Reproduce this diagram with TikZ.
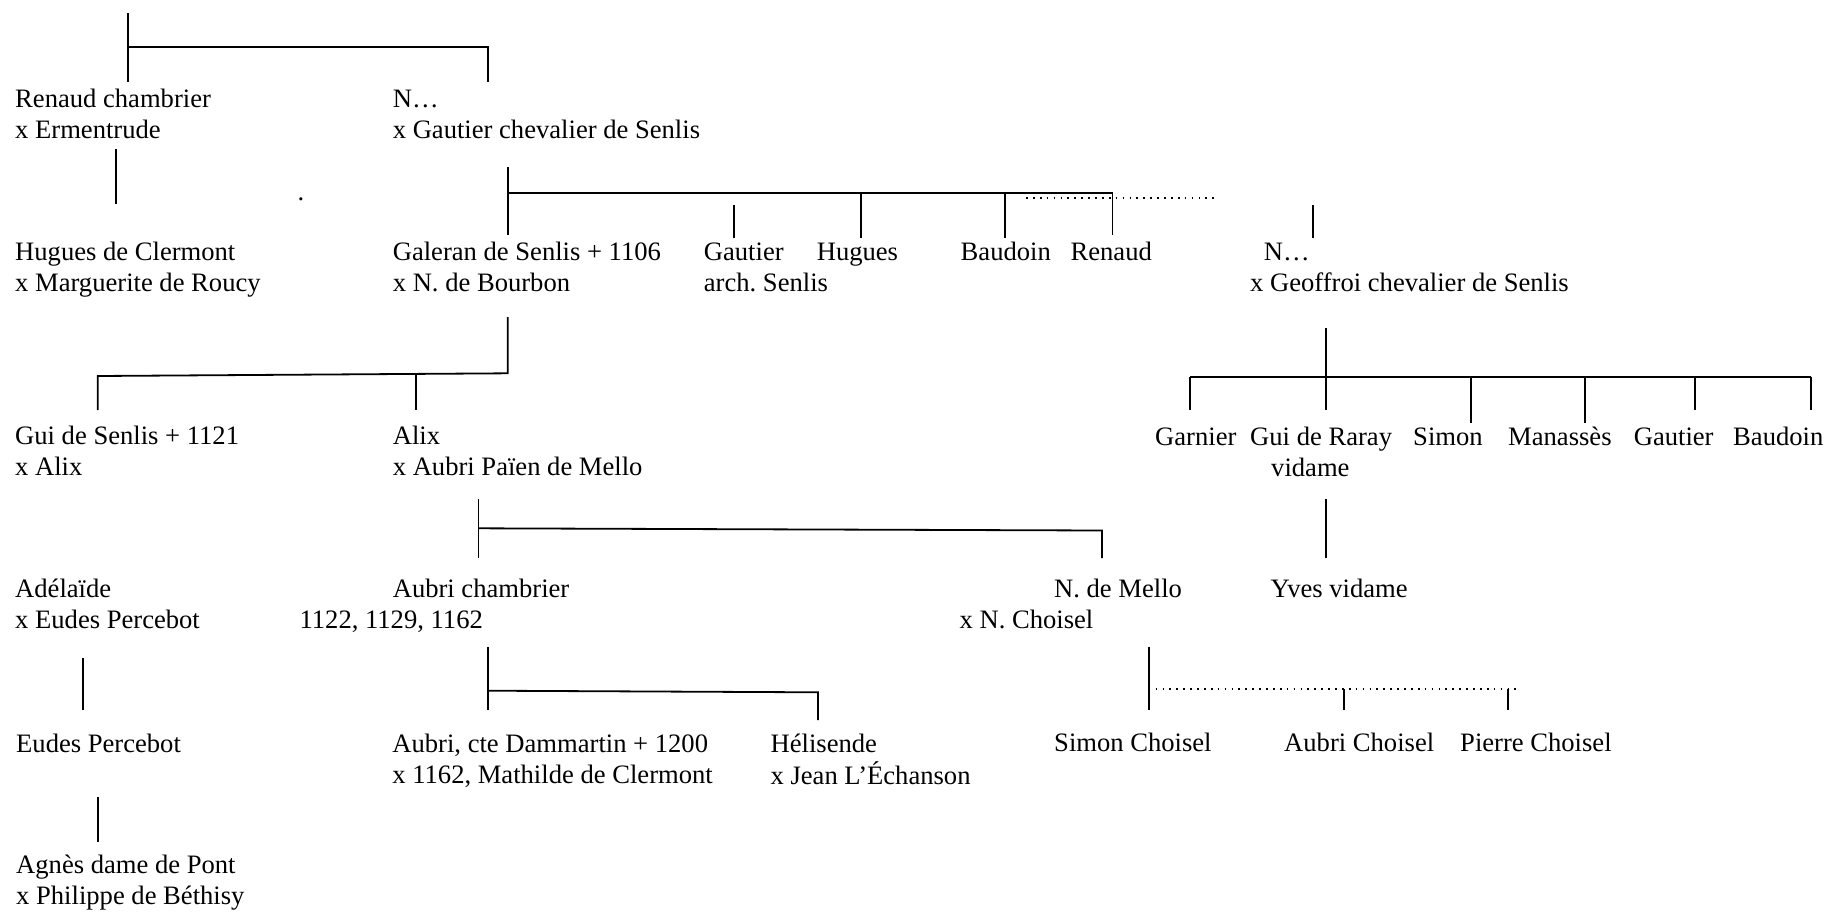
\documentclass[tikz,border=0pt]{standalone}
\usepackage{fontspec}
\setmainfont{Liberation Serif}
\newcommand\twol[1]{\begin{tabular}[t]{@{}l@{}}#1\end{tabular}}
\begin{document}
\frenchspacing
\begin{tikzpicture}[x=1pt,y=-1pt,
  txt/.style={anchor=base west, inner sep=0pt, font=\fontsize{26.6}{31}\selectfont\frenchspacing},
  ln/.style={line width=1.8pt},
  dl/.style={line width=1.7pt, dash pattern=on 1.7pt off 5.2pt}]
\useasboundingbox (0,0) rectangle (1827,913);
% ---------- persons ----------
\node[txt] (renaud)   at (15,107)   {\twol{Renaud chambrier\\x Ermentrude}};
\node[txt] (nG)       at (392.6,107) {\twol{N…\\x Gautier chevalier de Senlis}};
\node[txt] (dot)      at (297.5,200) {.};
\node[txt] (hugues)   at (15,260)   {\twol{Hugues de Clermont\\x Marguerite de Roucy}};
\node[txt] (galeran)  at (392.6,260) {\twol{Galeran de Senlis + 1106\\x N. de Bourbon}};
\node[txt] (gautier)  at (703.7,260) {\twol{Gautier\\arch. Senlis}};
\node[txt] (huguesB)  at (816.6,260) {Hugues};
\node[txt] (baudoin)  at (960.5,260) {Baudoin};
\node[txt] (renaudB)  at (1070.4,260) {Renaud};
\node[txt] (nGe)      at (1250,260) {\twol{\hspace*{13.6pt}N…\\x Geoffroi chevalier de Senlis}};
\node[txt] (gui)      at (15,444)   {\twol{Gui de Senlis + 1121\\x Alix}};
\node[txt] (alix)     at (392.6,444) {\twol{Alix\\x Aubri Païen de Mello}};
\node[txt] (garnier)  at (1155,445) {Garnier};
\node[txt] (guiR)     at (1250,445) {\twol{Gui de Raray\\\hspace*{21pt}vidame}};
\node[txt] (simon)    at (1413,445) {Simon};
\node[txt] (manasses) at (1508,445) {Manassès};
\node[txt] (gautierB) at (1633.6,445) {Gautier};
\node[txt] (baudoinB) at (1733,445) {Baudoin};
\node[txt] (adelaide) at (15,597)   {\twol{Adélaïde\\x Eudes Percebot}};
\node[txt] (aubri)    at (299.4,597) {\twol{\hspace*{93.2pt}Aubri chambrier\\1122, 1129, 1162}};
\node[txt] (mello)    at (959.4,597) {\twol{\hspace*{94.6pt}N. de Mello\\x N. Choisel}};
\node[txt] (yves)     at (1270.5,597) {Yves vidame};
\node[txt] (eudes)    at (16,752)   {Eudes Percebot};
\node[txt] (aubriD)   at (392.2,752) {\twol{Aubri, cte Dammartin + 1200\\x 1162, Mathilde de Clermont}};
\node[txt] (helis)    at (770.4,752) {\twol{Hélisende\\x Jean L’Échanson}};
\node[txt] (simonC)   at (1054,751) {Simon Choisel};
\node[txt] (aubriC)   at (1284,751) {Aubri Choisel};
\node[txt] (pierreC)  at (1460,751) {Pierre Choisel};
\node[txt] (agnes)    at (16,873)   {\twol{Agnès dame de Pont\\x Philippe de Béthisy}};
% ---------- junction points ----------
\coordinate (t0) at (127.6,13);   \coordinate (t1) at (127.6,47);
\coordinate (t2) at (127.6,82);   \coordinate (t3) at (488,47);
\coordinate (t4) at (488,82);
\coordinate (r0) at (115.7,149);  \coordinate (r1) at (115.7,204);
\coordinate (g0) at (507.8,167);  \coordinate (g1) at (507.8,193);
\coordinate (g2) at (507.8,235);  \coordinate (g3) at (1112.5,193);
\coordinate (g4) at (1112.5,235);
\coordinate (g5) at (860.6,193);  \coordinate (g6) at (860.6,238);
\coordinate (g7) at (1005,193);   \coordinate (g8) at (1005,238);
\coordinate (g9) at (734.3,205);  \coordinate (g10) at (734.3,238);
\coordinate (d0) at (1026,198.3); \coordinate (d1) at (1216,198.3);
\coordinate (n0) at (1312.8,205); \coordinate (n1) at (1312.8,238);
\coordinate (s0) at (507.8,317);  \coordinate (s1) at (507.8,373.3);
\coordinate (s2) at (97.8,376);   \coordinate (s3) at (97.8,410);
\coordinate (s4) at (416,374.3);  \coordinate (s5) at (416,410);
\coordinate (f0) at (1326,328);   \coordinate (f1) at (1326,376.7);
\coordinate (f2) at (1326,410);
\coordinate (f3) at (1190,376.7); \coordinate (f4) at (1190,410);
\coordinate (f5) at (1810.6,376.7); \coordinate (f6) at (1810.6,410);
\coordinate (f7) at (1470.8,376.7); \coordinate (f8) at (1470.8,423);
\coordinate (f9) at (1584.8,376.7); \coordinate (f10) at (1584.8,423);
\coordinate (f11) at (1695,376.7); \coordinate (f12) at (1695,410);
\coordinate (y0) at (1326,499);   \coordinate (y1) at (1326,558);
\coordinate (a0) at (478.4,499);  \coordinate (a1) at (478.4,528.3);
\coordinate (a2) at (478.4,558);  \coordinate (a3) at (1102,530.5);
\coordinate (a4) at (1102,558);
\coordinate (e0) at (83,658);     \coordinate (e1) at (83,710);
\coordinate (b0) at (488,646.7);  \coordinate (b1) at (488,690.7);
\coordinate (b2) at (488,710);    \coordinate (b3) at (818,692.3);
\coordinate (b4) at (818,720);
\coordinate (c0) at (1148.7,646.7); \coordinate (c1) at (1148.7,689.3);
\coordinate (c2) at (1148.7,710); \coordinate (c3) at (1518,689.3);
\coordinate (c4) at (1344,689.3); \coordinate (c5) at (1344,710);
\coordinate (c6) at (1508,689.3); \coordinate (c7) at (1508,710);
\coordinate (p0) at (97.6,796.7); \coordinate (p1) at (97.6,841.7);
% ---------- connectors ----------
\draw[ln] (t0) -- (t2);
\draw[ln] (t1) -- (t3) -- (t4);
\draw[ln] (r0) -- (r1);
\draw[ln] (g0) -- (g2);
\draw[ln] (g1) -- (g3) -- (g4);
\draw[ln] (g5) -- (g6);
\draw[ln] (g7) -- (g8);
\draw[ln] (g9) -- (g10);
\draw[dl] (d0) -- (d1);
\draw[ln] (n0) -- (n1);
\draw[ln] (s0) -- (s1) -- (s2) -- (s3);
\draw[ln] (s4) -- (s5);
\draw[ln] (f0) -- (f2);
\draw[ln] (f3) -- (f5);
\draw[ln] (f3) -- (f4);
\draw[ln] (f5) -- (f6);
\draw[ln] (f7) -- (f8);
\draw[ln] (f9) -- (f10);
\draw[ln] (f11) -- (f12);
\draw[ln] (y0) -- (y1);
\draw[ln] (a0) -- (a2);
\draw[ln] (a1) -- (a3) -- (a4);
\draw[ln] (e0) -- (e1);
\draw[ln] (b0) -- (b2);
\draw[ln] (b1) -- (b3) -- (b4);
\draw[ln] (c0) -- (c2);
\draw[dl] (c1) -- (c3);
\draw[ln] (c4) -- (c5);
\draw[ln] (c6) -- (c7);
\draw[ln] (p0) -- (p1);
\end{tikzpicture}
\end{document}
